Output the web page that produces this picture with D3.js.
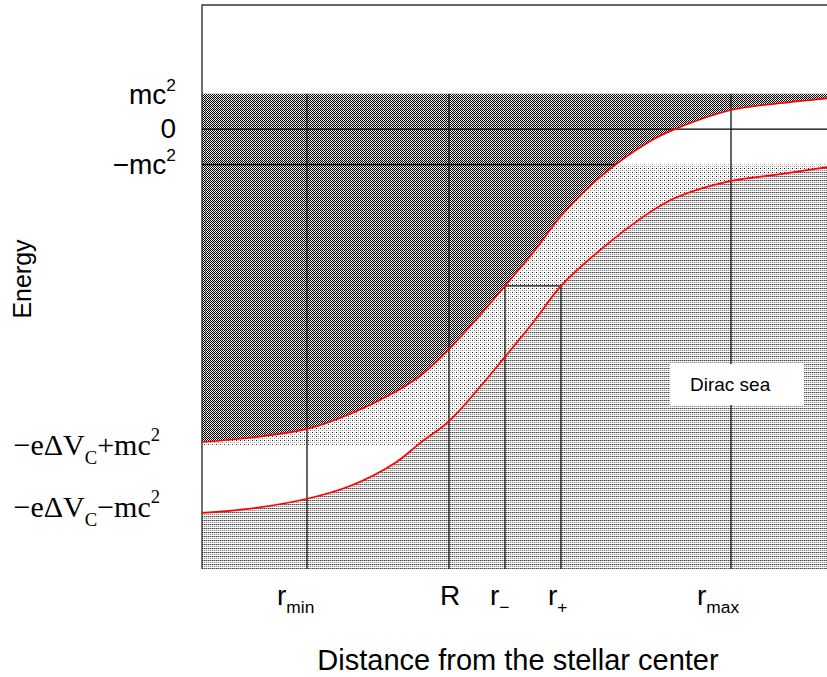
<!DOCTYPE html>
<html>
<head>
<meta charset="utf-8">
<script src="https://cdn.jsdelivr.net/npm/d3@7"></script>
<style>
  body { margin: 0; background: #fff; }
  svg { display: block; }
</style>
</head>
<body>
<div id="chart"></div>
<script>
// radius grid (arbitrary units) and the two red curves, energy in units of mc^2
var rGrid  = [0, 0.48, 1.05, 1.48, 1.93, 2.18, 2.47, 2.8, 3.03, 3.33, 3.59, 3.98, 4.48, 4.73, 5.29, 5.78, 6.25]
var upperE = [-8.82, -8.70, -8.45, -8.03, -7.41, -6.96, -6.20, -5.18, -4.42, -3.41, -2.45, -1.35, -0.34, 0.0, 0.54, 0.73, 0.87]
var lowerE = [-10.82, -10.70, -10.42, -10.06, -9.41, -8.85, -8.23, -7.20, -6.42, -5.38, -4.42, -3.41, -2.34, -1.94, -1.46, -1.27, -1.07]

// energy levels on the left
var levelValues = [1, 0, -1, -8.9, -10.9]
var levelLabels = [
  [['mc', ''], ['2', 'sup']],
  [['0', '']],
  [['\u2212mc', ''], ['2', 'sup']],
  [['\u2212e\u0394V', ''], ['C', 'sub'], ['+mc', ''], ['2', 'sup']],
  [['\u2212e\u0394V', ''], ['C', 'sub'], ['\u2212mc', ''], ['2', 'sup']]
]

// radii on the bottom
var radiusValues = [1.05, 2.47, 3.03, 3.59, 5.29]
var radiusLabels = [
  [['r', ''], ['min', 'sub']],
  [['R', '']],
  [['r', ''], ['\u2212', 'sub']],
  [['r', ''], ['+', 'sub']],
  [['r', ''], ['max', 'sub']]
]

var xLabel = 'Distance from the stellar center'
var yLabel = 'Energy'
var seaLabel = 'Dirac sea'

var width = 827
var height = 677
var sans = '"Liberation Sans", Arial, sans-serif'
var serif = '"Liberation Serif", "Times New Roman", serif'

var svg = d3.select('#chart')
  .append('svg')
  .attr('width', width)
  .attr('height', height)

var x = d3.scaleLinear().domain([0, 6.25]).range([202, 827])
var y = d3.scaleLinear().domain([-12.4, 3.5]).range([569, 5])

var pts = rGrid.map((r, i) => ({ r: r, up: upperE[i], lo: lowerE[i] }))
var smooth = d3.curveCatmullRom.alpha(0.5)

// fill patterns
var defs = svg.append('defs')
function pattern(id, cells) {
  var p = defs.append('pattern')
    .attr('id', id)
    .attr('patternUnits', 'userSpaceOnUse')
    .attr('width', 4)
    .attr('height', 4)
  p.append('rect').attr('width', 4).attr('height', 4).attr('fill', '#fff')
  cells.forEach(c => {
    p.append('rect')
      .attr('x', c[0]).attr('y', c[1])
      .attr('width', 1).attr('height', 1)
      .attr('fill', c[2])
      .attr('shape-rendering', 'crispEdges')
  })
}
var darkCells = []
for (var i = 0; i < 4; i++) {
  for (var j = 0; j < 4; j++) {
    if ((i + j) % 2 === 0) darkCells.push([i, j, '#000'])
    else darkCells.push([i, j, (i === 3 || j === 3) ? '#fff' : '#d2d2d2'])
  }
}
pattern('dark', darkCells)
pattern('light', [[0, 0, '#222'], [2, 2, '#888'], [2, 0, '#c4c4c4'], [0, 2, '#c4c4c4']])
pattern('sea', [
  [0, 0, '#444'], [1, 0, '#999'], [2, 0, '#555'], [3, 0, '#aaa'],
  [0, 1, '#eee'], [2, 1, '#e4e4e4'],
  [0, 2, '#999'], [1, 2, '#ddd'], [2, 2, '#888'], [3, 2, '#ddd']
])

var line = d3.line().x(d => x(d[0])).y(d => y(d[1]))

// light band between -mc^2 and -e dVc + mc^2
svg.append('rect')
  .attr('x', x(0)).attr('y', y(-1))
  .attr('width', x(6.25) - x(0))
  .attr('height', y(-8.9) - y(-1))
  .attr('fill', 'url(#light)')

// dark region above the upper curve
var darkArea = d3.area()
  .x(d => x(d.r))
  .y0(y(1))
  .y1(d => y(d.up))
  .curve(smooth)
svg.append('clipPath').attr('id', 'darkClip')
  .append('path').attr('d', darkArea(pts))
svg.append('path')
  .attr('d', darkArea(pts))
  .attr('fill', 'url(#dark)')

// dirac sea below the lower curve
svg.append('path')
  .attr('d', d3.area()
    .x(d => x(d.r))
    .y0(y(-12.4))
    .y1(d => y(d.lo))
    .curve(smooth)(pts))
  .attr('fill', 'url(#sea)')

// frame (left and top)
svg.append('path')
  .attr('d', line([[0, -12.4], [0, 3.5], [6.25, 3.5]]))
  .attr('fill', 'none')
  .attr('stroke', '#333')
  .attr('stroke-width', 1.4)

// horizontal level lines
svg.append('path')
  .attr('d', line([[0, 0], [6.25, 0]]))
  .attr('stroke', '#000').attr('stroke-width', 1.3)
svg.append('path')
  .attr('d', line([[0, -1], [6.25, -1]]))
  .attr('clip-path', 'url(#darkClip)')
  .attr('stroke', '#000').attr('stroke-width', 1.5)

// upper curve value at a given radius (for the r-/r+ box)
function upperAt(r) {
  var i = d3.bisectRight(rGrid, r) - 1
  var t = (r - rGrid[i]) / (rGrid[i + 1] - rGrid[i])
  return upperE[i] + t * (upperE[i + 1] - upperE[i])
}

// vertical radius lines
radiusValues.forEach((r, i) => {
  var top = (i === 2 || i === 3) ? upperAt(radiusValues[2]) : 1
  svg.append('path')
    .attr('d', line([[r, top], [r, -12.4]]))
    .attr('stroke', '#111')
    .attr('stroke-width', 1.3)
})
svg.append('path')
  .attr('d', line([[radiusValues[2], upperAt(radiusValues[2])], [radiusValues[3], upperAt(radiusValues[2])]]))
  .attr('stroke', '#111')
  .attr('stroke-width', 1.3)

// red curves
;['up', 'lo'].forEach(k => {
  svg.append('path')
    .attr('d', d3.line().x(d => x(d.r)).y(d => y(d[k])).curve(smooth)(pts))
    .attr('fill', 'none')
    .attr('stroke', '#f00')
    .attr('stroke-width', 1.7)
})

// dirac sea label box
svg.append('rect')
  .attr('x', 670).attr('y', 364)
  .attr('width', 134).attr('height', 41)
  .attr('fill', '#fff')
svg.append('text')
  .attr('x', 690).attr('y', 391)
  .attr('font-family', sans)
  .attr('font-size', 19)
  .text(seaLabel)

// text with sub/superscripts
function richText(g, parts, size) {
  var shift = 0
  parts.forEach(p => {
    var target = p[1] === 'sub' ? size * 0.3 : (p[1] === 'sup' ? -size * 0.45 : 0)
    g.append('tspan')
      .attr('dy', target - shift)
      .attr('font-size', p[1] ? size * 0.62 : size)
      .text(p[0])
    shift = target
  })
}

// left labels
var levelDy = [10, 9, 9, 10, 1]
levelValues.forEach((v, i) => {
  var isSerif = i > 2
  var t = svg.append('text')
    .attr('x', isSerif ? 160 : 176)
    .attr('y', y(v) + levelDy[i])
    .attr('text-anchor', 'end')
    .attr('font-family', isSerif ? serif : sans)
    .attr('fill', '#000')
  richText(t, levelLabels[i], isSerif ? 30 : 28)
})

// bottom labels
var radiusShift = [-30, -9, -15, -13, -34]
radiusValues.forEach((r, i) => {
  var t = svg.append('text')
    .attr('x', x(r) + radiusShift[i])
    .attr('y', 605)
    .attr('font-family', sans)
    .attr('fill', '#000')
  richText(t, radiusLabels[i], 28)
})

// axis titles
svg.append('text')
  .attr('transform', 'translate(31,279) rotate(-90)')
  .attr('text-anchor', 'middle')
  .attr('font-family', sans)
  .attr('font-size', 25)
  .text(yLabel)

svg.append('text')
  .attr('x', 518).attr('y', 670)
  .attr('text-anchor', 'middle')
  .attr('font-family', sans)
  .attr('font-size', 29)
  .text(xLabel)
</script>
</body>
</html>
